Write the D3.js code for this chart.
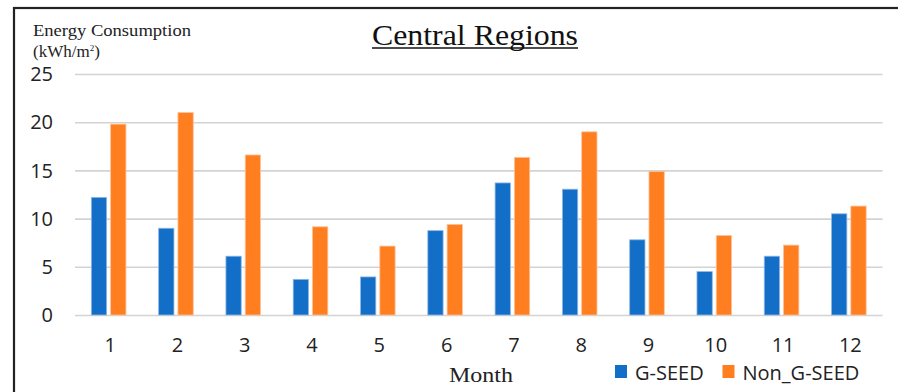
<!DOCTYPE html>
<html><head><meta charset="utf-8">
<script src="https://cdn.jsdelivr.net/npm/d3@7"></script>
<style>
html,body{margin:0;padding:0;background:#fff;}
svg{display:block;}
</style></head>
<body>
<svg id="chart" width="898" height="392"></svg>
<script>
const months = ["1","2","3","4","5","6","7","8","9","10","11","12"];
const seriesNames = ["G-SEED","Non_G-SEED"];
const gseed = [12.2, 9.0, 6.1, 3.7, 3.95, 8.75, 13.7, 13.05, 7.8, 4.5, 6.1, 10.5];
const nonGseed = [19.8, 21.0, 16.6, 9.15, 7.15, 9.4, 16.35, 19.0, 14.9, 8.25, 7.25, 11.3];
const yTicks = [0, 5, 10, 15, 20, 25];
const colors = ["#136EC7", "#FF7E1F"];

const svg = d3.select("#chart");
const serif = "'Palatino Linotype','Book Antiqua',Palatino,'Liberation Serif','DejaVu Serif',serif";
const sans = "'Open Sans','Noto Sans',sans-serif";

// frame
svg.append("rect").attr("x",14).attr("y",8).attr("width",900).attr("height",400)
  .attr("fill","none").attr("stroke","#222").attr("stroke-width",2.2);

const x0 = d3.scaleBand().domain(months).range([75, 882.5]).paddingInner(0).paddingOuter(0);
const x1 = d3.scaleBand().domain(seriesNames).range([0, x0.bandwidth()]).paddingInner(0.207).paddingOuter(0.847);
const y = d3.scaleLinear().domain([0,25]).range([315, 74]);

// gridlines
const yAxis = d3.axisLeft(y).tickValues(yTicks).tickSize(-(882.5-75)).tickPadding(22).tickFormat(d3.format("d"));
const gy = svg.append("g").attr("transform","translate(75,0)").call(yAxis);
gy.select(".domain").remove();
gy.selectAll(".tick line").attr("stroke","#d3d3d3").attr("stroke-width",1.6);
gy.selectAll(".tick text").attr("font-family",sans).attr("font-size",20).attr("fill","#222").attr("dy","0.33em");

// bars
const data = months.map((m,i)=>({m, vals:[{s:seriesNames[0],v:gseed[i]},{s:seriesNames[1],v:nonGseed[i]}]}));
const groups = svg.append("g").selectAll("g").data(data).join("g")
  .attr("transform", d=>`translate(${x0(d.m)},0)`);
groups.selectAll("rect").data(d=>d.vals).join("rect")
  .attr("x", d=>x1(d.s)).attr("width", x1.bandwidth())
  .attr("y", d=>y(d.v)).attr("height", d=>y(0)-y(d.v))
  .attr("fill", (d,i)=>colors[i])
  .attr("stroke", (d,i)=> i===0 ? "#8fb8e6" : "#ffc39a").attr("stroke-width",0.8);

// x axis labels
const xAxis = d3.axisBottom(x0).tickSize(0).tickPadding(0);
const gx = svg.append("g").attr("transform","translate(1.5,338)").call(xAxis);
gx.select(".domain").remove();
gx.selectAll(".tick text").attr("font-family",sans).attr("font-size",20).attr("fill","#222");

// title
svg.append("text").attr("x",475).attr("y",45).attr("text-anchor","middle")
  .attr("font-family",serif).attr("font-size",29).attr("fill","#111")
  .attr("textLength",206).attr("lengthAdjust","spacingAndGlyphs").text("Central Regions");
svg.append("line").attr("x1",372).attr("x2",578).attr("y1",48).attr("y2",48)
  .attr("stroke","#111").attr("stroke-width",1.4);

// y axis title
svg.append("text").attr("x",33).attr("y",36).attr("font-family",serif).attr("font-size",16).attr("fill","#222")
  .attr("textLength",158).attr("lengthAdjust","spacingAndGlyphs").text("Energy Consumption");
const yl2 = svg.append("text").attr("x",33).attr("y",57).attr("font-family",serif).attr("font-size",17).attr("fill","#222");
yl2.append("tspan").text("(kWh/m");
yl2.append("tspan").attr("font-size",9).attr("dy",-6).text("2");
yl2.append("tspan").attr("dy",6).text(")");

// x axis title
svg.append("text").attr("x",449).attr("y",382)
  .attr("font-family",serif).attr("font-size",21).attr("fill","#222")
  .attr("textLength",64).attr("lengthAdjust","spacingAndGlyphs").text("Month");

// legend
const legX = [615, 722.5];
const leg = svg.append("g").selectAll("g").data(seriesNames).join("g")
  .attr("transform",(d,i)=>`translate(${legX[i]},365)`);
leg.append("rect").attr("width",12).attr("height",13).attr("fill",(d,i)=>colors[i]);
leg.append("text").attr("x",20).attr("y",7.5).attr("dy","0.35em")
  .attr("font-family",sans).attr("font-size",20).attr("fill","#222").text(d=>d);
</script>
</body></html>
